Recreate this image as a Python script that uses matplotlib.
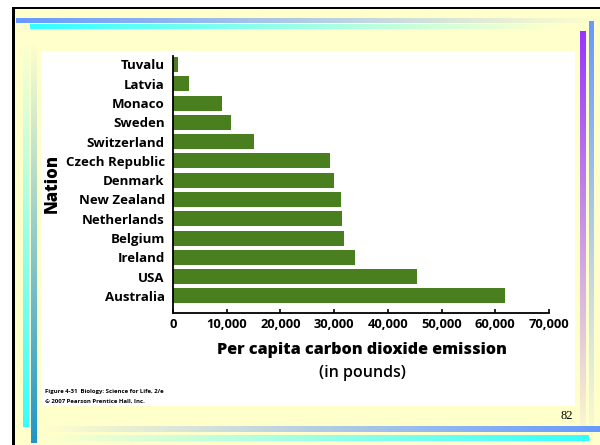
import numpy as np
import matplotlib
matplotlib.use("Agg")
import matplotlib.pyplot as plt
from matplotlib.patches import Rectangle
from matplotlib.colors import to_rgb

nations = ["Tuvalu", "Latvia", "Monaco", "Sweden", "Switzerland", "Czech Republic",
           "Denmark", "New Zealand", "Netherlands", "Belgium", "Ireland", "USA", "Australia"]
emissions = [1000, 3000, 9200, 10800, 15100, 29300, 30000, 31300, 31400, 31800, 33900, 45400, 61900]
xticks = [0, 10000, 20000, 30000, 40000, 50000, 60000, 70000]
xticklabels = ["0", "10,000", "20,000", "30,000", "40,000", "50,000", "60,000", "70,000"]

W, H = 600, 445
fig = plt.figure(figsize=(6, 4.45), dpi=100)
fig.patch.set_facecolor("white")

bg = fig.add_axes([0, 0, 1, 1])
bg.set_axis_off()
YEL = "#FFFFCC"
bg.add_patch(Rectangle((12, 7), 600, 445, facecolor=YEL, edgecolor="none"))
bg.add_patch(Rectangle((12, 7), 600, 2.2, facecolor="black", edgecolor="none"))
bg.add_patch(Rectangle((12, 7), 3, 445, facecolor="black", edgecolor="none"))
bg.add_patch(Rectangle((41, 51), 534, 355, facecolor="white", edgecolor="none", zorder=3))


def hgrad(x0, x1, y0, y1, color, a0, a1):
    c = to_rgb(color)
    n = 256
    arr = np.zeros((1, n, 4))
    arr[..., :3] = c
    arr[0, :, 3] = np.linspace(a0, a1, n)
    bg.imshow(arr, extent=(x0, x1, y1, y0), aspect="auto", interpolation="bilinear", zorder=2)


def vgrad(x0, x1, y0, y1, color, a0, a1):
    c = to_rgb(color)
    n = 256
    arr = np.zeros((n, 1, 4))
    arr[..., :3] = c
    arr[:, 0, 3] = np.linspace(a0, a1, n)
    bg.imshow(arr, extent=(x0, x1, y1, y0), origin="upper", aspect="auto",
              interpolation="bilinear", zorder=2)


# top bars
hgrad(16, 600, 18, 23, "#6699FF", 1.0, 0.0)
hgrad(30, 560, 25, 29.5, "#33FFFF", 1.0, 0.0)
# right vertical bars
vgrad(580, 586, 31, 445, "#9933FF", 1.0, 0.0)
vgrad(589, 594, 21, 445, "#6699FF", 1.0, 0.0)
# left vertical bars
vgrad(23, 29, 40, 427, "#33FFFF", 0.0, 1.0)
vgrad(31, 37, 40, 443, "#1E96C8", 0.0, 1.0)
# bottom bars
hgrad(40, 600, 426, 432, "#6699FF", 0.0, 1.0)
hgrad(40, 589, 435, 441, "#33FFFF", 0.0, 1.0)

bg.set_xlim(0, W)
bg.set_ylim(H, 0)

# main chart
ax_left, ax_right = 173, 549
ax_top, ax_bot = 56, 312.7
ax = fig.add_axes([ax_left / W, 1 - ax_bot / H, (ax_right - ax_left) / W, (ax_bot - ax_top) / H])
ax.set_facecolor("none")
ax.set_zorder(5)
ypos = np.arange(len(nations))
ax.barh(ypos, emissions, height=0.78, color="#4A7F1F", edgecolor="none")
ax.set_ylim(12.87, -0.44)
ax.set_xlim(0, 70000)
for s in ["top", "right"]:
    ax.spines[s].set_visible(False)
ax.spines["left"].set_linewidth(1.3)
ax.spines["bottom"].set_linewidth(1.3)
ax.set_yticks(ypos)
ax.set_yticklabels(nations, fontsize=9.5, fontweight="bold", family=["Open Sans", "DejaVu Sans"])
ax.tick_params(axis="y", length=0, pad=6)
ax.set_xticks(xticks)
ax.set_xticklabels(xticklabels, fontsize=9.3, fontweight="bold", family=["Open Sans", "DejaVu Sans"])
ax.tick_params(axis="x", direction="in", length=3, width=1.2, pad=4)

fig.text(52 / W, 1 - 183 / H, "Nation", rotation=90, ha="center", va="center",
         fontsize=12, fontweight="heavy", family=["Open Sans", "DejaVu Sans"])
fig.text(362 / W, 1 - 350 / H, "Per capita carbon dioxide emission", ha="center", va="center",
         fontsize=11.6, fontweight="heavy", family=["Open Sans", "DejaVu Sans"])
fig.text(362 / W, 1 - 373 / H, "(in pounds)", ha="center", va="center",
         fontsize=11.5, fontweight="semibold", family=["Open Sans", "DejaVu Sans"])
fig.text(45 / W, 1 - 391 / H, "Figure 4-31  Biology: Science for Life, 2/e", ha="left", va="center",
         fontsize=4.3, fontweight="bold", family=["Open Sans", "DejaVu Sans"], zorder=10)
fig.text(45 / W, 1 - 401 / H, "\u00a9 2007 Pearson Prentice Hall, Inc.", ha="left", va="center",
         fontsize=4.3, fontweight="bold", family=["Open Sans", "DejaVu Sans"], zorder=10)
fig.text(567 / W, 1 - 416 / H, "82", ha="center", va="center",
         fontsize=9, family=["Liberation Serif", "DejaVu Serif"], zorder=10)

fig.savefig("out.png", dpi=100)
